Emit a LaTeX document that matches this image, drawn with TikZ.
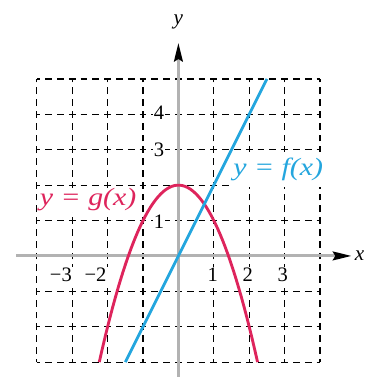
\documentclass[tikz,border=0pt]{standalone}
\usepackage{fontspec}
\setmainfont{Liberation Serif}
\usepackage{tikz}
\usetikzlibrary{arrows.meta}

\definecolor{gred}{RGB}{222,36,92}
\definecolor{fblue}{RGB}{36,166,222}

\begin{document}
\begin{tikzpicture}[x=1cm,y=1cm,font=\fontsize{16.5}{18}\selectfont,
            >={Stealth[black,length=15pt,width=7pt,inset=2pt]}]
        \tikzstyle{gridline}=[draw=black,line width=1pt,
            dash pattern=on 0.19cm off 0.1433cm,dash phase=0.095cm]
        \tikzstyle{axis}=[draw=black!30,line width=2.4pt,->]
        \tikzstyle{tick}=[fill=white,inner sep=1pt]
        \tikzstyle{curvelabel}=[fill=white,font=\fontsize{20}{22}\selectfont\itshape]
        \tikzstyle{curve}=[line width=2.3pt]

        \useasboundingbox (-5.04,-3.42) rectangle (5.27,7.23);

        \draw[gridline] (-4,-3) grid (4,5);

        \coordinate (xstart) at (-4.58,0);
        \coordinate (xend) at (4.89,0);
        \coordinate (ystart) at (0,-3.6);
        \coordinate (yend) at (0,6.02);
        \draw[axis] (xstart) -- (xend);
        \draw[axis] (ystart) -- (yend);

        \node (ylabel) at (0,6.61) {\fontsize{17}{18}\selectfont\itshape y};
        \node[anchor=west,inner sep=0pt] (xlabel) at (4.98,0) {\fontsize{17}{18}\selectfont\itshape x};

        \node[tick] (yfour) at (-0.55,4.04) {4};
        \node[tick] (ythree) at (-0.55,3) {3};
        \node[tick] (yone) at (-0.55,0.96) {1};

        \node[tick,anchor=east] (xmthree) at (-2.97,-0.54) {−3};
        \node[tick,anchor=east] (xmtwo) at (-1.99,-0.54) {−2};
        \node[tick] (xone) at (0.97,-0.54) {1};
        \node[tick] (xtwo) at (1.96,-0.54) {2};
        \node[tick] (xthree) at (2.95,-0.54) {3};

        \node[curvelabel,text=gred,inner sep=0.5pt] (glabel) at (-2.55,1.58)
            {\scalebox{1.2}[1]{y = g(x)}};
        \node[curvelabel,text=fblue,inner xsep=1pt,inner ysep=5pt] (flabel) at (2.82,2.45)
            {\scalebox{1.2}[1]{y = f(x)}};

        \draw[curve,gred] plot[domain=-2.236:2.236,samples=60] (\x,{2-\x*\x});
        \draw[curve,fblue] plot[domain=-1.5:2.5,samples=2] (\x,{2*\x});
    \end{tikzpicture}
\end{document}
